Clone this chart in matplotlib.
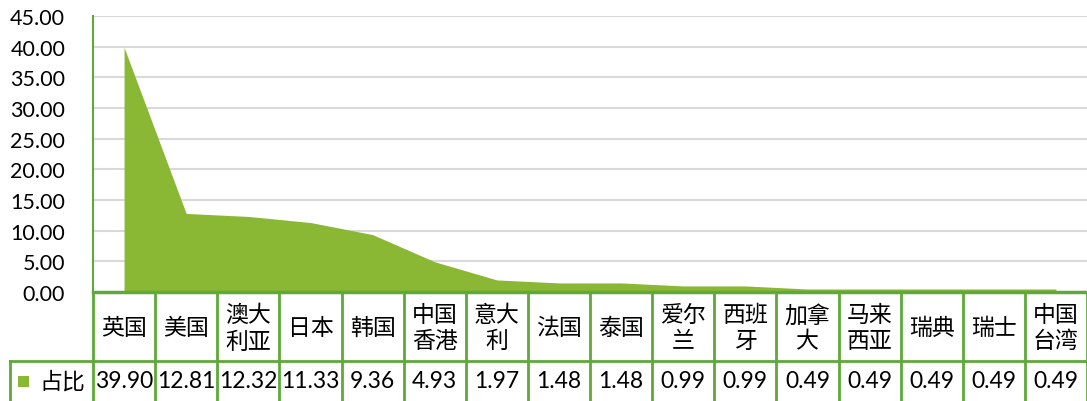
import matplotlib
matplotlib.use("Agg")
from matplotlib import pyplot as plt
import matplotlib.patches as patches

# Data
categories = ["英国", "美国", "澳大\n利亚", "日本", "韩国", "中国\n香港", "意大\n利", "法国", "泰国",
              "爱尔\n兰", "西班\n牙", "加拿\n大", "马来\n西亚", "瑞典", "瑞士", "中国\n台湾"]
values = [39.90, 12.81, 12.32, 11.33, 9.36, 4.93, 1.97, 1.48, 1.48, 0.99, 0.99, 0.49, 0.49, 0.49, 0.49, 0.49]
series_name = "占比"
yticks = [0, 5, 10, 15, 20, 25, 30, 35, 40, 45]

plt.rcParams['font.family'] = ['Lato', 'Noto Sans CJK SC', 'DejaVu Sans']

W, H = 1087, 402
fig = plt.figure(figsize=(W / 100, H / 100), dpi=100)

green_fill = "#8BB834"
green_line = "#5FA83A"

# plot area in pixels
left_px, right_px, top_px, bot_px = 93, 1087, 17, 293
ax = fig.add_axes([left_px / W, 1 - bot_px / H, (right_px - left_px) / W, (bot_px - top_px) / H])

x = list(range(len(values)))
ax.fill_between(x, values, 0, color=green_fill, linewidth=0, zorder=3)

ax.set_xlim(-0.5, len(values) - 0.5)
ax.set_ylim(0, 45)
ax.set_yticks(yticks)
ax.set_yticklabels([f"{v:.2f}" for v in yticks], fontsize=15.5)
ax.tick_params(axis='y', length=0, pad=20)
ax.set_xticks([])
ax.grid(axis='y', color="#d9d9d9", linewidth=1.5, zorder=0)
ax.set_axisbelow(True)
for s in ['top', 'right']:
    ax.spines[s].set_visible(False)
ax.spines['left'].set_color(green_line)
ax.spines['left'].set_linewidth(1.5)
ax.spines['bottom'].set_color(green_line)
ax.spines['bottom'].set_linewidth(2.5)
ax.spines['bottom'].set_zorder(5)

# data table below the chart, drawn in figure pixel coordinates
def fx(px):
    return px / W

def fy(py):
    return 1 - py / H

col_w = (right_px - left_px) / len(values)
row1_bot = 362
row2_bot = 404
table_left = 10

for k in range(len(values) + 1):
    xp = left_px + k * col_w
    fig.add_artist(plt.Line2D([fx(xp), fx(xp)], [fy(bot_px), fy(row2_bot)],
                              color=green_line, linewidth=2))
fig.add_artist(plt.Line2D([fx(table_left), fx(right_px)], [fy(row1_bot), fy(row1_bot)],
                          color=green_line, linewidth=2))
fig.add_artist(plt.Line2D([fx(table_left), fx(table_left)], [fy(row1_bot), fy(row2_bot)],
                          color=green_line, linewidth=2))

for i, (cat, val) in enumerate(zip(categories, values)):
    xc = left_px + (i + 0.5) * col_w
    fig.text(fx(xc), fy((bot_px + row1_bot) / 2 + 1), cat, ha='center', va='center',
             fontsize=16.5, linespacing=1.3)
    fig.text(fx(xc), fy(382), f"{val:.2f}", ha='center', va='center', fontsize=16.5)

# legend key in the table
fig.add_artist(patches.Rectangle((fx(18), fy(388)), 11 / W, 11 / H, facecolor=green_fill,
                                 edgecolor='none', transform=fig.transFigure))
fig.text(fx(39), fy(382), series_name, ha='left', va='center', fontsize=16.5)

plt.savefig("out.png", dpi=100)
